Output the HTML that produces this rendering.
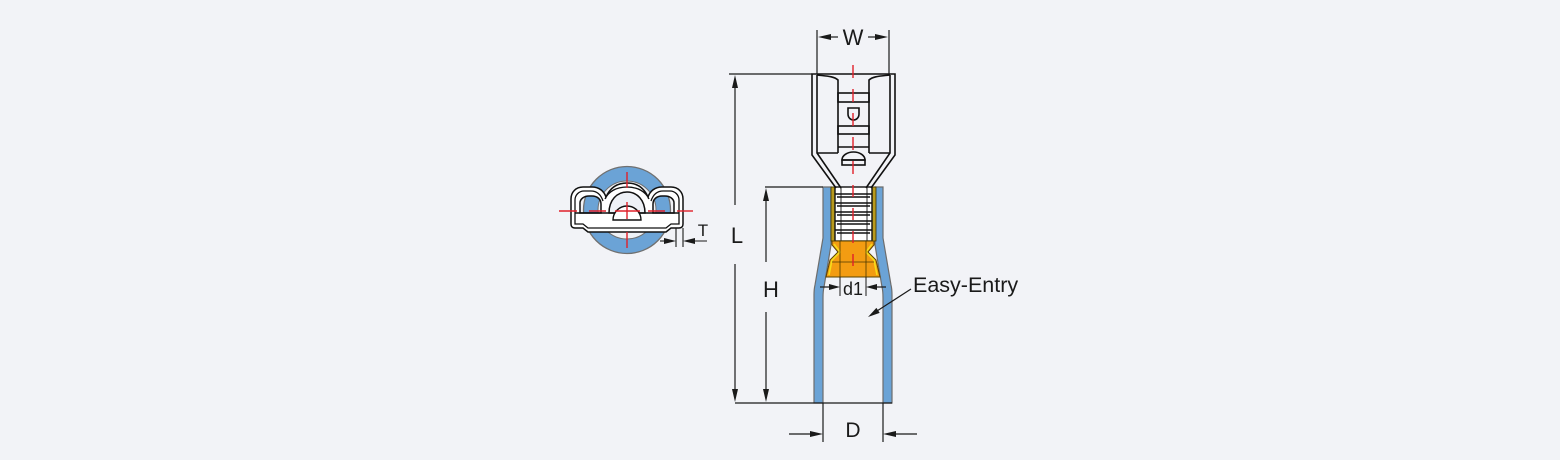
<!DOCTYPE html>
<html>
<head>
<meta charset="utf-8">
<style>
html,body{margin:0;padding:0;background:#f2f3f7;}
svg{display:block;}
text{font-family:"Liberation Sans",Arial,sans-serif;fill:#1a1a1a;}
</style>
</head>
<body>
<svg width="1560" height="460" viewBox="0 0 1560 460" xmlns="http://www.w3.org/2000/svg">
<rect x="0" y="0" width="1560" height="460" fill="#f2f3f7"/>

<!-- ===== END VIEW (left) ===== -->
<circle cx="627" cy="210" r="43.5" fill="#6ba3d6" stroke="#707070" stroke-width="1.3"/>
<circle cx="627" cy="210" r="29" fill="#eef1f6" stroke="#707070" stroke-width="1"/>

<path fill="#ffffff" fill-rule="evenodd" stroke="#111" stroke-width="1.5" d="
M571,224 L571,199 C571,192 576,187 583,187 L592,187 C599,187 604,191 606,197 C610,188 617,183 627,183 C637,183 644,188 648,197 C650,191 655,187 662,187 L671,187 C678,187 683,192 683,199 L683,224 C683,226 682,228 679,228 L671,228 L666,232 L588,232 L583,228 L575,228 C572,228 571,226 571,224 Z
M580,213 L580,203 C580,199 584,196 589,196 L592,196 C597,196 601,199 601,204 L601,213 Z
M674,213 L674,203 C674,199 670,196 665,196 L662,196 C657,196 653,199 653,204 L653,213 Z
M609,213 C609,200 617,192 627,192 C637,192 645,200 645,213 Z"/>
<path fill="none" stroke="#111" stroke-width="1.3" d="
M575,213 L575,200 C575,195 579,191 584,191 L591,191 C597,191 601,195 603,201
M651,201 C653,195 657,191 663,191 L670,191 C675,191 679,195 679,200 L679,213
M605,199 C608,192 616,187 627,187 C638,187 646,192 649,199
M575,213 L575,224 L583,224 L588,228 L666,228 L671,224 L679,224 L679,213"/>
<line x1="575" y1="213" x2="679" y2="213" stroke="#111" stroke-width="1.5"/>
<path d="M613,220 A14,14 0 0 1 641,220 Z" fill="#ffffff" stroke="#111" stroke-width="1.4"/>

<g stroke="#e0202a" stroke-width="1.4">
<line x1="559" y1="211" x2="577" y2="211"/>
<line x1="589" y1="211" x2="606" y2="211"/>
<line x1="615" y1="211" x2="640" y2="211"/>
<line x1="648" y1="211" x2="665" y2="211"/>
<line x1="677" y1="211" x2="693" y2="211"/>
<line x1="627" y1="172" x2="627" y2="188"/>
<line x1="627" y1="202" x2="627" y2="219"/>
<line x1="627" y1="232" x2="627" y2="248"/>
</g>

<!-- T dimension -->
<g stroke="#1a1a1a" stroke-width="1.1">
<line x1="676" y1="228" x2="676" y2="247"/>
<line x1="683" y1="228" x2="683" y2="247"/>
<line x1="660" y1="241" x2="670" y2="241"/>
<line x1="689" y1="241" x2="707" y2="241"/>
</g>
<polygon points="676,241 664,238 664,244" fill="#1a1a1a"/>
<polygon points="683,241 695,238 695,244" fill="#1a1a1a"/>
<text x="703" y="236" font-size="17" text-anchor="middle">T</text>

<!-- ===== FRONT VIEW ===== -->
<path fill="#6ba3d6" stroke="#6d6d6d" stroke-width="1.2" d="M823,187 L831,187 L831,245 L824,287 C823,291 823,294 823,298 L823,403 L814,403 L814,295 C814,291 814,289 815,285 L823,238 Z"/>
<path fill="#6ba3d6" stroke="#6d6d6d" stroke-width="1.2" d="M883,187 L875,187 L875,245 L882,287 C883,291 883,294 883,298 L883,403 L892,403 L892,295 C892,291 892,289 891,285 L883,238 Z"/>

<!-- barrel -->
<rect x="831" y="187" width="45" height="54" fill="#b89a1e" stroke="#3a3000" stroke-width="0.8"/>
<rect x="835" y="187" width="37" height="54" fill="#ffffff" stroke="#111" stroke-width="1.4"/>
<g stroke="#111" stroke-width="1.4">
<line x1="835" y1="194" x2="872" y2="194"/>
<line x1="837" y1="197" x2="870" y2="197"/>
<line x1="835" y1="203" x2="872" y2="203"/>
<line x1="837" y1="206" x2="870" y2="206"/>
<line x1="835" y1="212" x2="872" y2="212"/>
<line x1="837" y1="215" x2="870" y2="215"/>
<line x1="835" y1="221" x2="872" y2="221"/>
<line x1="837" y1="224" x2="870" y2="224"/>
<line x1="835" y1="230" x2="872" y2="230"/>
<line x1="837" y1="233" x2="870" y2="233"/>
<line x1="841" y1="187" x2="841" y2="241" stroke-width="0.9"/>
<line x1="867" y1="187" x2="867" y2="241" stroke-width="0.9"/>
</g>

<!-- orange ferrule -->
<polygon points="832,241 874,241 874,245 868,252 876,260 880,277 826,277 830,260 838,252 832,245" fill="#f39c12" stroke="#5a4300" stroke-width="1"/>
<polyline points="834,244 840,252 832,260 829,275" fill="none" stroke="#f6dc1a" stroke-width="1.6"/>
<polyline points="872,244 866,252 874,260 877,275" fill="none" stroke="#f6dc1a" stroke-width="1.6"/>
<g stroke="#4a3800" stroke-width="0.8">
<line x1="840" y1="241" x2="840" y2="277"/>
<line x1="866" y1="241" x2="866" y2="277"/>
<line x1="832" y1="262" x2="874" y2="262"/>
</g>

<!-- metal contact top -->
<g fill="none" stroke="#111" stroke-width="1.6">
<polyline points="836,188 812,155 812,74 895,74 895,155 871,188"/>
<polyline points="841,188 817,153 817,75"/>
<polyline points="866,188 890,153 890,75"/>
<path d="M817,75 C825,76 834,76 838,80 L838,153"/>
<path d="M890,75 C882,76 873,76 869,80 L869,153"/>
<line x1="817" y1="153" x2="838" y2="153"/>
<line x1="869" y1="153" x2="890" y2="153"/>
<rect x="838" y="93" width="31" height="9"/>
<rect x="838" y="126" width="31" height="8"/>
<line x1="838" y1="147" x2="869" y2="147"/>
<path d="M848,108 L859,108 L859,114 C859,118 856,120 853.5,120 C851,120 848,118 848,114 Z"/>
<path d="M842,160 A11.5,8 0 0 1 865,160 Z"/>
<rect x="842" y="160" width="23" height="5"/>
</g>

<line x1="853" y1="65" x2="853" y2="177" stroke="#e0202a" stroke-width="1.4" stroke-dasharray="13 11"/>
<line x1="853" y1="185" x2="853" y2="276" stroke="#e0202a" stroke-width="1.4" stroke-dasharray="12 11"/>

<!-- ===== DIMENSIONS ===== -->
<g stroke="#1a1a1a" stroke-width="1.2">
<line x1="729" y1="74" x2="812" y2="74"/>
<line x1="765" y1="187" x2="823" y2="187"/>
<line x1="735" y1="403" x2="892" y2="403"/>
<line x1="735" y1="80" x2="735" y2="205"/>
<line x1="735" y1="264" x2="735" y2="397"/>
<line x1="766" y1="192" x2="766" y2="262"/>
<line x1="766" y1="312" x2="766" y2="397"/>
<line x1="817" y1="30" x2="817" y2="74"/>
<line x1="889" y1="30" x2="889" y2="74"/>
<line x1="828" y1="37" x2="838" y2="37"/>
<line x1="868" y1="37" x2="878" y2="37"/>
<line x1="823" y1="403" x2="823" y2="442"/>
<line x1="883" y1="403" x2="883" y2="442"/>
<line x1="789" y1="434" x2="812" y2="434"/>
<line x1="894" y1="434" x2="917" y2="434"/>
<line x1="840" y1="277" x2="840" y2="296" stroke-width="1"/>
<line x1="866" y1="277" x2="866" y2="296" stroke-width="1"/>
<line x1="820" y1="287" x2="830" y2="287"/>
<line x1="876" y1="287" x2="886" y2="287"/>
<line x1="911" y1="289" x2="877" y2="311"/>
</g>
<g fill="#1a1a1a">
<polygon points="735,75 732,88 738,88"/>
<polygon points="735,402 732,389 738,389"/>
<polygon points="766,188 763,201 769,201"/>
<polygon points="766,402 763,389 769,389"/>
<polygon points="818,37 831,34 831,40"/>
<polygon points="888,37 875,34 875,40"/>
<polygon points="823,434 810,431 810,437"/>
<polygon points="883,434 896,431 896,437"/>
<polygon points="840,287 829,284 829,290"/>
<polygon points="866,287 877,284 877,290"/>
<polygon points="868,317 879.7,312.9 876.4,307.9"/>
</g>

<text x="853" y="45" font-size="22" text-anchor="middle">W</text>
<text x="737" y="243" font-size="22" text-anchor="middle">L</text>
<text x="771" y="297" font-size="22" text-anchor="middle">H</text>
<text x="853" y="437" font-size="21" text-anchor="middle">D</text>
<text x="853" y="295" font-size="18" text-anchor="middle" textLength="20" lengthAdjust="spacingAndGlyphs">d1</text>
<text x="913" y="292" font-size="21.5">Easy-Entry</text>
</svg>
</body>
</html>
